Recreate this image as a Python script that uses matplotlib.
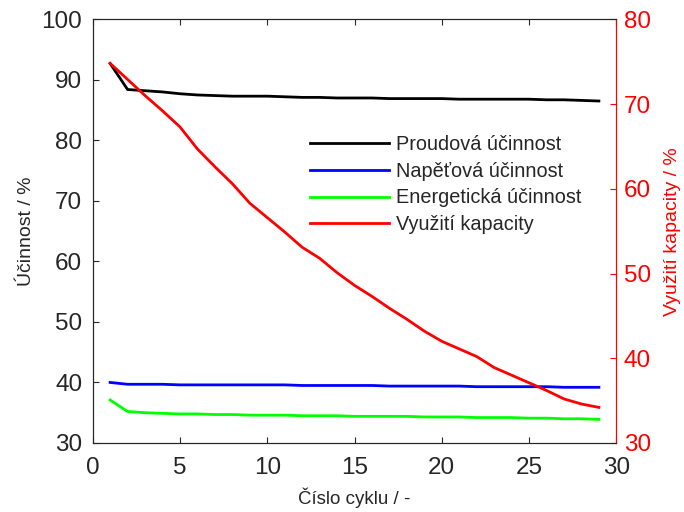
import matplotlib
matplotlib.use("Agg")
import matplotlib.pyplot as plt
import numpy as np

plt.rcParams['font.family'] = ['Liberation Sans', 'DejaVu Sans']

cycles = list(range(1, 30))
proudova = [92.7, 88.4, 88.2, 88.0, 87.7, 87.5, 87.4, 87.3, 87.3, 87.3,
            87.2, 87.1, 87.1, 87.0, 87.0, 87.0, 86.9, 86.9, 86.9, 86.9,
            86.8, 86.8, 86.8, 86.8, 86.8, 86.7, 86.7, 86.6, 86.5]
napetova = [40.0, 39.7, 39.7, 39.7, 39.6, 39.6, 39.6, 39.6, 39.6, 39.6,
            39.6, 39.5, 39.5, 39.5, 39.5, 39.5, 39.4, 39.4, 39.4, 39.4,
            39.4, 39.3, 39.3, 39.3, 39.3, 39.3, 39.2, 39.2, 39.2]
energeticka = [37.1, 35.2, 35.0, 34.9, 34.8, 34.8, 34.7, 34.7, 34.6, 34.6,
               34.6, 34.5, 34.5, 34.5, 34.4, 34.4, 34.4, 34.4, 34.3, 34.3,
               34.3, 34.2, 34.2, 34.2, 34.1, 34.1, 34.0, 34.0, 33.9]
vyuziti = [74.8, 72.9, 71.0, 69.2, 67.3, 64.7, 62.6, 60.6, 58.3, 56.6,
           54.9, 53.1, 51.8, 50.1, 48.6, 47.3, 45.9, 44.6, 43.2, 42.0,
           41.1, 40.2, 38.9, 38.0, 37.1, 36.2, 35.2, 34.6, 34.2]

labels = ['Proudová účinnost', 'Napěťová účinnost', 'Energetická účinnost', 'Využití kapacity']
xticks = [0, 5, 10, 15, 20, 25, 30]
yticks_left = [30, 40, 50, 60, 70, 80, 90, 100]
yticks_right = [30, 40, 50, 60, 70, 80]

dark = '#262626'
fig = plt.figure(figsize=(6.84, 5.12), dpi=100)
ax = fig.add_axes([0.1355, 0.1348, 0.7656, 0.8275])
ax2 = ax.twinx()

lw = 2.0
l1, = ax.plot(cycles, proudova, color='black', lw=lw, label=labels[0])
l2, = ax.plot(cycles, napetova, color='#0000ff', lw=lw, label=labels[1])
l3, = ax.plot(cycles, energeticka, color='#00ff00', lw=lw, label=labels[2])
l4, = ax2.plot(cycles, vyuziti, color='#ff0000', lw=lw, label=labels[3])

ax.set_xlim(0, 30)
ax.set_ylim(30, 100)
ax2.set_ylim(30, 80)
ax.set_xticks(xticks)
ax.set_yticks(yticks_left)
ax2.set_yticks(yticks_right)

for a in (ax, ax2):
    for s in a.spines.values():
        s.set_linewidth(0.8)
        s.set_color(dark)
ax2.spines['right'].set_color('#ff0000')

ax.tick_params(axis='x', direction='in', length=4, width=0.8, colors=dark,
               labelsize=17.5, top=True, pad=10)
ax.tick_params(axis='y', direction='in', length=4, width=0.8, colors=dark,
               labelsize=17.5, pad=7.5)
ax2.tick_params(axis='y', direction='in', length=4, width=0.8, colors='#ff0000',
                labelsize=17.5, pad=5.5)

ax.set_xlabel('Číslo cyklu / -', fontsize=13.5, color=dark)
ax.set_ylabel('Účinnost / %', fontsize=14, color=dark)
ax2.set_ylabel('Využití kapacity / %', fontsize=14, color='#ff0000')
ax.xaxis.set_label_coords(0.5, -0.104)
ax.yaxis.set_label_coords(-0.110, 0.5)
ax2.yaxis.set_label_coords(1.091, 0.5)

leg = ax2.legend([l1, l2, l3, l4], labels, loc='upper left',
                 bbox_to_anchor=(0.415, 0.727), frameon=False, fontsize=14.3,
                 handlelength=4.0, handletextpad=0.35, labelspacing=0.39,
                 borderaxespad=0, borderpad=0)
for t in leg.get_texts():
    t.set_color(dark)

fig.savefig('out.png', dpi=100)
